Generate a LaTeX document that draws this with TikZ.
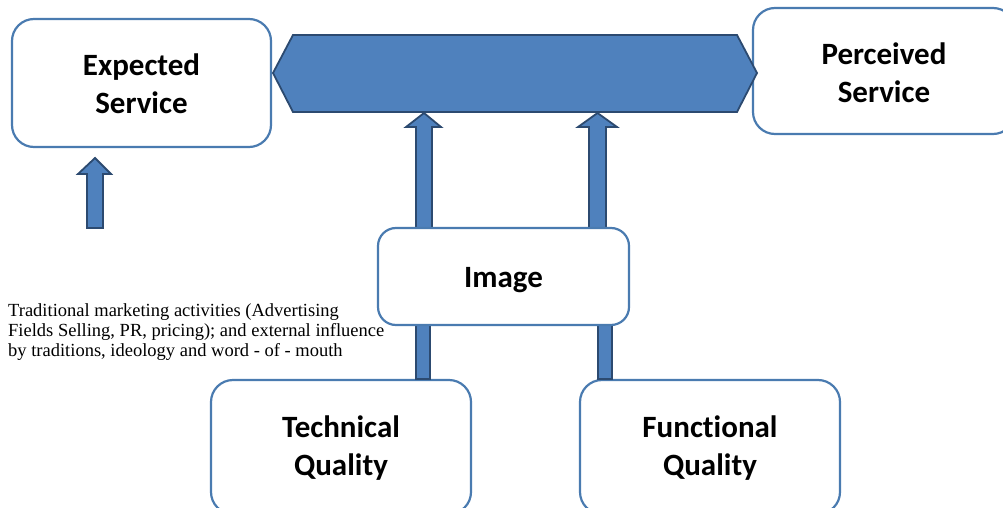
\documentclass[tikz,border=0pt]{standalone}
\usepackage{fontspec}
\setmainfont{Liberation Serif}
\newfontfamily\boxfont[Ligatures=NoCommon]{Carlito}
\usetikzlibrary{calc}
\definecolor{boxline}{HTML}{4A7BB0}
\definecolor{arrowfill}{HTML}{4F81BD}
\definecolor{arrowline}{HTML}{2C4A70}
\tikzset{
  svcbox/.style={draw=boxline, line width=2.2pt, rounded corners=22pt, fill=white, inner sep=0pt},
  boxtext/.style={font=\boxfont\bfseries\fontsize{31}{38}\selectfont, align=center, inner sep=0pt},
  blockarrow/.style={fill=arrowfill, draw=arrowline, line width=1.8pt, line join=miter},
  note/.style={font=\fontsize{18.5}{20}\selectfont, align=left, inner sep=0pt, anchor=north west}
}
\begin{document}
\begin{tikzpicture}[x=1pt,y=-1pt]
\useasboundingbox (0,0) rectangle (1003,508);
\clip (0,0) rectangle (1003,508);
% boxes
\node[svcbox, minimum width=259pt, minimum height=128pt] (exp) at (141.5,83) {};
\node[boxtext] at ([yshift=-1pt]exp.center) {Expected\\Service};
\node[svcbox, minimum width=262pt, minimum height=126pt] (per) at (884,71) {};
\node[boxtext] at ([yshift=-2pt]per.center) {Perceived\\Service};
\node[svcbox, minimum width=260pt, minimum height=134pt] (tech) at (341,447) {};
\node[boxtext] at ([yshift=-1pt]tech.center) {Technical\\Quality};
\node[svcbox, minimum width=260pt, minimum height=134pt] (func) at (710,447) {};
\node[boxtext] at ([yshift=-1pt]func.center) {Functional\\Quality};
\coordinate (imgc) at (503.5,276.5);
\path (imgc) +(-125.5,-48.5) coordinate (imgnw) +(125.5,48.5) coordinate (imgse);
% hexagon band
\coordinate (hexL) at (273,73);
\coordinate (hexR) at (757,73);
\draw[blockarrow] (hexL) -- (293,35) -- (737,35) -- (hexR) -- (737,112) -- (293,112) -- cycle;
% lower bars (quality -> image)
\draw[blockarrow] (416,0 |- tech.north) -- (416,0 |- imgse) -- (430,0 |- imgse) -- (430,0 |- tech.north) -- cycle;
\draw[blockarrow] (598,0 |- func.north) -- (598,0 |- imgse) -- (612,0 |- imgse) -- (612,0 |- func.north) -- cycle;
% upper arrows (image -> band)
\draw[blockarrow] (416,0 |- imgnw) -- (416,127) -- (406,127) -- (424,113) -- (441,127) -- (432,127) -- (432,0 |- imgnw) -- cycle;
\draw[blockarrow] (589,0 |- imgnw) -- (589,127) -- (578,127) -- (597.5,113) -- (617,127) -- (606,127) -- (606,0 |- imgnw) -- cycle;
% image box on top
\node[svcbox, minimum width=251pt, minimum height=97pt, rounded corners=18pt] (img) at (imgc) {};
\node[boxtext] at ([yshift=-4pt]img.center) {Image};
% left arrow
\coordinate (extTop) at (95,158);
\coordinate (extBot) at (95,228);
\draw[blockarrow] (87,0 |- extBot) -- (87,174) -- (78,174) -- (extTop) -- (111,174) -- (103,174) -- (103,0 |- extBot) -- cycle;
% note
\node[note] (txt) at (8,303) {Traditional marketing activities (Advertising\\Fields Selling, PR, pricing); and external influence\\by traditions, ideology and word - of - mouth};
\end{tikzpicture}
\end{document}
